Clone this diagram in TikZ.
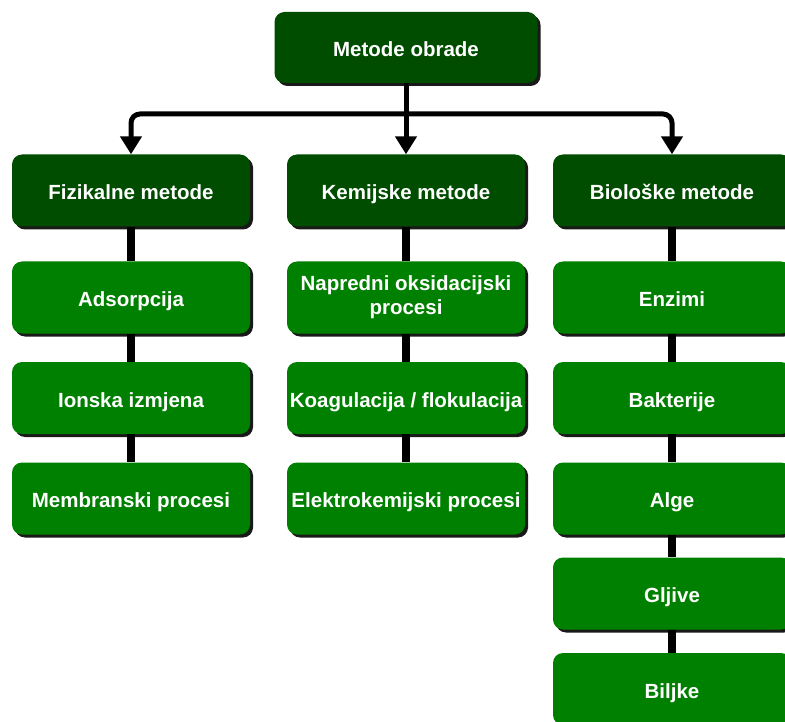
\documentclass[tikz,border=0pt]{standalone}
\usepackage{fontspec}
\setmainfont{Liberation Sans}
\usetikzlibrary{shadows,arrows.meta}
\definecolor{darkg}{RGB}{0,77,0}
\definecolor{lightg}{RGB}{0,128,0}
\tikzset{
  box/.style={draw=none, rounded corners=10pt, minimum width=238pt, minimum height=72pt,
    inner sep=2pt, align=center, text=white, font=\bfseries\fontsize{20.5}{24}\selectfont,
    execute at begin node={\rule{0pt}{1.1em}\vphantom{g}},
    drop shadow={shadow xshift=3pt, shadow yshift=-3pt, fill=black, opacity=0.9}},
  catbox/.style={box, fill=darkg},
  itembox/.style={box, fill=lightg},
  conn/.style={line width=7.5pt, black},
  arr/.style={line width=5pt, black, rounded corners=9pt, -{Triangle[width=21pt,length=18pt]}}
}
\begin{document}
\begin{tikzpicture}[x=1pt,y=-1pt]
\useasboundingbox (0,0) rectangle (785,722);
\coordinate (hub) at (406,114);
% top
\node[catbox, minimum width=263pt, minimum height=71pt] (top) at (406,47.5) {Metode obrade};
% level 1
\node[catbox] (fiz) at (131,190.5) {Fizikalne metode};
\node[catbox] (kem) at (406,190.5) {Kemijske metode};
\node[catbox] (bio) at (672,190.5) {Biološke metode};
% column 1
\node[itembox] (ads) at (131,297.5) {Adsorpcija};
\node[itembox] (ion) at (131,398) {Ionska izmjena};
\node[itembox] (mem) at (131,498.5) {Membranski procesi};
% column 2
\node[itembox] (aop) at (406,297.5) {Napredni oksidacijski\\procesi};
\node[itembox] (koa) at (406,398) {Koagulacija / flokulacija};
\node[itembox] (ele) at (406,498.5) {Elektrokemijski procesi};
% column 3
\node[itembox] (enz) at (672,297.5) {Enzimi};
\node[itembox] (bak) at (672,398) {Bakterije};
\node[itembox] (alg) at (672,498.5) {Alge};
\node[itembox] (glj) at (672,593.5) {Gljive};
\node[itembox] (bil) at (672,689) {Biljke};
% arrows
\draw[arr] (top.south) -- (kem.north);
\draw[arr] (hub) -| (fiz.north);
\draw[arr] (hub) -| (bio.north);
% vertical connectors
\draw[conn] (fiz.south) -- (ads.north);
\draw[conn] (ads.south) -- (ion.north);
\draw[conn] (ion.south) -- (mem.north);
\draw[conn] (kem.south) -- (aop.north);
\draw[conn] (aop.south) -- (koa.north);
\draw[conn] (koa.south) -- (ele.north);
\draw[conn] (bio.south) -- (enz.north);
\draw[conn] (enz.south) -- (bak.north);
\draw[conn] (bak.south) -- (alg.north);
\draw[conn] (alg.south) -- (glj.north);
\draw[conn] (glj.south) -- (bil.north);
\end{tikzpicture}
\end{document}
